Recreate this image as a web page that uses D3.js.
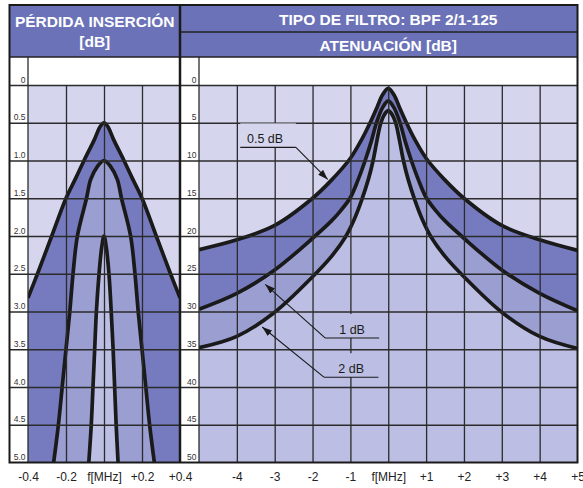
<!DOCTYPE html>
<html>
<head>
<meta charset="utf-8">
<script src="https://cdn.jsdelivr.net/npm/d3@7"></script>
<style>
  body { margin: 0; background: #fff; }
  svg { display: block; font-family: "Liberation Sans", Arial, sans-serif; }
  .lvl { font-size: 8.5px; fill: #333; }
  .freq text { font-size: 12px; fill: #222; }
  .grid line { stroke: #2b2b2b; stroke-width: 1.3; }
  .head { font-size: 15.5px; font-weight: bold; fill: #fff; }
  .note { font-size: 12.5px; fill: #1a1a1a; }
</style>
</head>
<body>
<svg id="chart" width="583" height="488"></svg>
<script>
// ---- data ----
// left panel: insertion loss [dB] vs f [MHz]
const lossTicks = [0, 0.5, 1, 1.5, 2, 2.5, 3, 3.5, 4, 4.5, 5];
const lossTickLabels = ["0", "0.5", "1.0", "1.5", "2.0", "2.5", "3.0", "3.5", "4.0", "4.5", "5.0"];
const lossFreqTicks = [-0.4, -0.2, 0, 0.2, 0.4];
const lossFreqLabels = ["-0.4", "-0.2", "f[MHz]", "+0.2", "+0.4"];

const loss05F  = [-0.4, -0.35, -0.275, -0.2, -0.15, -0.105, -0.05, -0.02, 0, 0.02, 0.05, 0.105, 0.15, 0.2, 0.275, 0.35, 0.4];
const loss05DB = [2.82, 2.5, 2.0, 1.5, 1.24, 1.0, 0.72, 0.55, 0.5, 0.55, 0.72, 1.0, 1.24, 1.5, 2.0, 2.5, 2.82];
const loss1F   = [-0.265, -0.24, -0.22, -0.2, -0.18, -0.163, -0.14, -0.092, -0.07, -0.035, 0, 0.035, 0.07, 0.092, 0.14, 0.163, 0.18, 0.2, 0.22, 0.24, 0.265];
const loss1DB  = [5.0, 4.5, 4.0, 3.5, 3.0, 2.5, 2.0, 1.5, 1.25, 1.08, 1.0, 1.08, 1.25, 1.5, 2.0, 2.5, 3.0, 3.5, 4.0, 4.5, 5.0];
const loss2F   = [-0.08, -0.067, -0.058, -0.049, -0.04, -0.026, -0.012, 0, 0.012, 0.026, 0.038, 0.048, 0.056, 0.064, 0.074];
const loss2DB  = [5.0, 4.5, 4.0, 3.5, 3.0, 2.5, 2.15, 2.0, 2.15, 2.5, 3.0, 3.5, 4.0, 4.5, 5.0];

// right panel: attenuation [dB] vs f [MHz]
const attTicks = [0, 5, 10, 15, 20, 25, 30, 35, 40, 45, 50];
const attTickLabels = ["0", "5", "10", "15", "20", "25", "30", "35", "40", "45", "50"];
const attFreqTicks = [-4, -3, -2, -1, 0, 1, 2, 3, 4, 5];
const attFreqLabels = ["-4", "-3", "-2", "-1", "f[MHz]", "+1", "+2", "+3", "+4", "+5"];

const att05F  = [-5, -4, -3, -2, -1.5, -1, -0.7, -0.48, -0.3, -0.15, 0, 0.15, 0.3, 0.48, 0.7, 1, 1.5, 2, 3, 4, 5];
const att05DB = [21.8, 20.5, 18.6, 15.0, 12.6, 9.7, 7.2, 5.0, 3.0, 1.3, 0.45, 1.3, 3.0, 5.0, 7.2, 9.7, 12.6, 15.0, 18.6, 20.5, 21.9];
const att1F   = [-5, -4, -3, -2, -1.5, -1.25, -1, -0.8, -0.61, -0.45, -0.31, -0.15, 0, 0.15, 0.31, 0.45, 0.61, 0.8, 1, 1.25, 1.5, 2, 3, 4, 5];
const att1DB  = [29.7, 27.6, 24.5, 20.3, 18.0, 16.6, 14.9, 12.6, 10.0, 7.5, 5.0, 3.0, 2.1, 3.0, 5.0, 7.5, 10.0, 12.6, 14.9, 16.6, 18.0, 20.3, 24.5, 27.6, 29.9];
const att2F   = [-5, -4, -3, -2, -1.5, -1.14, -0.9, -0.7, -0.52, -0.4, -0.3, -0.2, -0.1, 0, 0.1, 0.2, 0.3, 0.4, 0.52, 0.7, 0.9, 1.14, 1.5, 2, 3, 4, 5];
const att2DB  = [34.8, 33.3, 30.1, 25.4, 22.7, 20.2, 17.8, 15.2, 12.4, 10.0, 7.4, 5.1, 3.9, 3.4, 3.9, 5.1, 7.4, 10.0, 12.4, 15.2, 17.8, 20.2, 22.7, 25.4, 30.1, 33.3, 34.9];

const curveNames = ["0.5 dB", "1 dB", "2 dB"];

// ---- layout ----
const frame = {left: 9.5, top: 5, right: 577.5, bottom: 462.5, head: 57, split: 32, plotTop: 85, mid: 180};
const colors = {head: "#6b72b8", bg: "#d5d6ed", bands: ["#767bbf", "#9a9ed1", "#bcbfe3"], line: "#1a1a1a"};

const svg = d3.select("#chart");
svg.append("rect").attr("width", 583).attr("height", 488).attr("fill", "#fff");

const defs = svg.append("defs");
defs.append("marker")
    .attr("id", "arrow").attr("markerUnits", "userSpaceOnUse")
    .attr("markerWidth", 10).attr("markerHeight", 7)
    .attr("refX", 10).attr("refY", 3.5).attr("orient", "auto")
    .append("path").attr("d", "M0,0L10,3.5L0,7Z").attr("fill", colors.line);

const toPts = (fs, dbs) => fs.map((f, i) => ({f: f, db: dbs[i]}));

function drawPanel(p) {
    const x = p.x, y = p.y;
    const [x0, x1] = x.range();
    const yMax = y.domain()[1];
    const g = svg.append("g");

    g.append("clipPath").attr("id", p.id + "-clip")
        .append("rect").attr("x", x0).attr("y", frame.plotTop)
        .attr("width", x1 - x0).attr("height", frame.bottom - frame.plotTop);

    g.append("rect").attr("x", x0).attr("y", frame.plotTop)
        .attr("width", x1 - x0).attr("height", frame.bottom - frame.plotTop)
        .attr("fill", colors.bg);

    const plot = g.append("g").attr("clip-path", "url(#" + p.id + "-clip)");
    const curve = d3.curveCatmullRom.alpha(0.5);
    const area = d3.area().x(d => x(d.f)).y0(y(yMax)).y1(d => y(d.db)).curve(curve);
    const line = d3.line().x(d => x(d.f)).y(d => y(d.db)).curve(curve);

    p.curves.forEach((c, i) => {
        plot.append("path").datum(c).attr("d", area).attr("fill", colors.bands[i]);
    });

    // grid
    g.append("g").attr("class", "grid")
        .attr("transform", "translate(" + p.colLeft + ",0)")
        .call(d3.axisLeft(y).tickValues(p.ticks.slice(0, -1)).tickSize(-(x1 - p.colLeft)).tickFormat(""))
        .call(s => s.select(".domain").remove());
    g.append("g").attr("class", "grid")
        .attr("transform", "translate(0," + frame.bottom + ")")
        .call(d3.axisBottom(x).tickValues(p.vgrid).tickSize(-(frame.bottom - frame.plotTop)).tickFormat(""))
        .call(s => s.select(".domain").remove());
    g.append("line").attr("x1", x0).attr("x2", x0).attr("y1", frame.head).attr("y2", frame.bottom)
        .attr("stroke", "#2b2b2b").attr("stroke-width", 1.3);

    // level labels sit just above their line
    g.selectAll(".lvl").data(p.ticks).join("text")
        .attr("class", "lvl").attr("text-anchor", "end")
        .attr("x", x0 - 2.5).attr("y", d => y(d) - 2.5)
        .text((d, i) => p.tickLabels[i]);

    // curves
    p.curves.forEach(c => {
        plot.append("path").datum(c).attr("d", line)
            .attr("fill", "none").attr("stroke", colors.line).attr("stroke-width", 3.7);
    });

    // frequency axis
    g.append("g").attr("class", "freq")
        .attr("transform", "translate(0," + frame.bottom + ")")
        .call(d3.axisBottom(x).tickValues(p.freqTicks).tickFormat((d, i) => p.freqLabels[i]).tickSize(0).tickPadding(10))
        .call(s => s.select(".domain").remove());

    return g;
}

const xL = d3.scaleLinear([-0.4, 0.4], [28, frame.mid]);
const yL = d3.scaleLinear([0, 5], [frame.plotTop, frame.bottom]);
const xR = d3.scaleLinear([-5, 5], [199, frame.right]);
const yR = d3.scaleLinear([0, 50], [frame.plotTop, frame.bottom]);

drawPanel({
    id: "loss", x: xL, y: yL, colLeft: frame.left,
    ticks: lossTicks, tickLabels: lossTickLabels,
    vgrid: [-0.2, 0, 0.2],
    freqTicks: lossFreqTicks, freqLabels: lossFreqLabels,
    curves: [toPts(loss05F, loss05DB), toPts(loss1F, loss1DB), toPts(loss2F, loss2DB)]
});

const right = drawPanel({
    id: "att", x: xR, y: yR, colLeft: frame.mid,
    ticks: attTicks, tickLabels: attTickLabels,
    vgrid: [-4, -3, -2, -1, 0, 1, 2, 3, 4],
    freqTicks: attFreqTicks, freqLabels: attFreqLabels,
    curves: [toPts(att05F, att05DB), toPts(att1F, att1DB), toPts(att2F, att2DB)]
});

// curve labels with leader arrows (positions in chart units)
const notes = [
    {f0: -3.91, f1: -2.44, db: 8.26, tipF: -1.6, tipDb: 12.5, from: "end", box: colors.bg},
    {f0: -1.67, f1: -0.24, db: 33.5, tipF: -3.25, tipDb: 26.4, from: "start", box: colors.bands[2]},
    {f0: -1.70, f1: -0.26, db: 38.7, tipF: -3.33, tipDb: 32.05, from: "start", box: colors.bands[2]}
];
notes.forEach((n, i) => {
    const ux0 = xR(n.f0), ux1 = xR(n.f1), uy = yR(n.db);
    right.append("rect").attr("x", ux0).attr("y", uy - 24).attr("width", ux1 - ux0).attr("height", 24)
        .attr("fill", n.box);
    right.append("text").attr("class", "note").attr("text-anchor", "middle")
        .attr("x", (ux0 + ux1) / 2 - (i === 0 ? 3 : 0)).attr("y", uy - 4)
        .text(curveNames[i]);
    right.append("line").attr("x1", ux0).attr("x2", ux1).attr("y1", uy).attr("y2", uy)
        .attr("stroke", colors.line).attr("stroke-width", 1.1);
    const sx = n.from === "end" ? ux1 : ux0;
    right.append("line").attr("x1", sx).attr("y1", uy).attr("x2", xR(n.tipF)).attr("y2", yR(n.tipDb))
        .attr("stroke", colors.line).attr("stroke-width", 1.1).attr("marker-end", "url(#arrow)");
});

// header
const head = svg.append("g");
head.append("rect").attr("x", frame.left).attr("y", frame.top)
    .attr("width", frame.right - frame.left).attr("height", frame.head - frame.top).attr("fill", colors.head);
head.append("line").attr("x1", frame.mid).attr("x2", frame.right).attr("y1", frame.split).attr("y2", frame.split)
    .attr("stroke", "#222").attr("stroke-width", 1.5);
head.append("line").attr("x1", frame.left).attr("x2", frame.right).attr("y1", frame.head).attr("y2", frame.head)
    .attr("stroke", "#222").attr("stroke-width", 1.5);
const hl = (frame.left + frame.mid) / 2, hr = (xR.range()[0] + xR.range()[1]) / 2;
head.append("text").attr("class", "head").attr("text-anchor", "middle").attr("x", hl).attr("y", 27).text("PÉRDIDA INSERCIÓN");
head.append("text").attr("class", "head").attr("text-anchor", "middle").attr("x", hl).attr("y", 46.5).text("[dB]");
head.append("text").attr("class", "head").attr("text-anchor", "middle").attr("x", hr).attr("y", 25).text("TIPO DE FILTRO: BPF 2/1-125");
head.append("text").attr("class", "head").attr("text-anchor", "middle").attr("x", hr).attr("y", 50.5).text("ATENUACIÓN [dB]");

// frame
svg.append("rect").attr("x", frame.left).attr("y", frame.top)
    .attr("width", frame.right - frame.left).attr("height", frame.bottom - frame.top)
    .attr("fill", "none").attr("stroke", "#1a1a1a").attr("stroke-width", 2);
svg.append("line").attr("x1", frame.mid).attr("x2", frame.mid).attr("y1", frame.top).attr("y2", frame.bottom)
    .attr("stroke", "#1a1a1a").attr("stroke-width", 2.5);
</script>
</body>
</html>
